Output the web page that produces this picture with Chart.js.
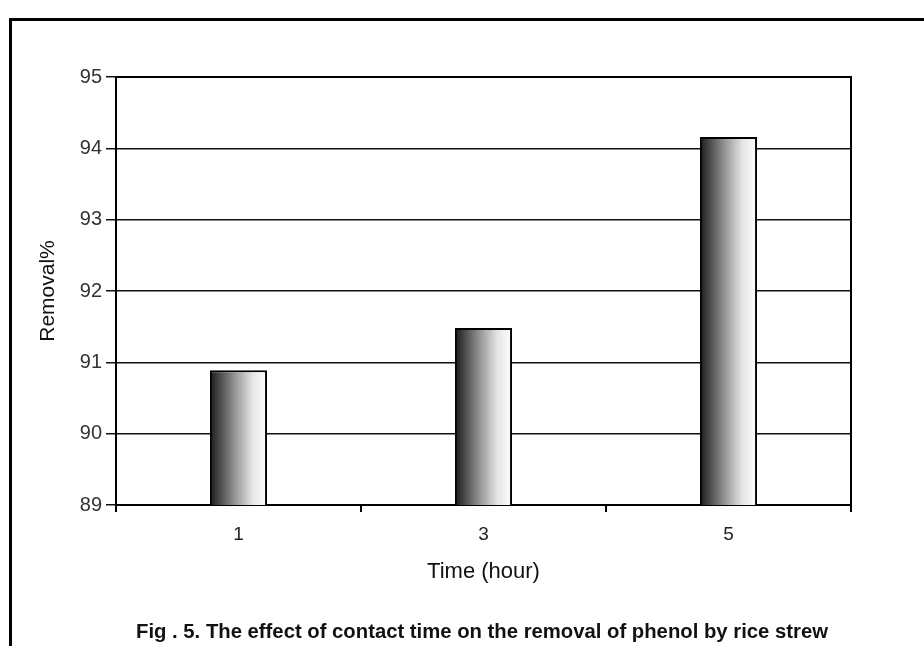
<!DOCTYPE html>
<html>
<head>
<meta charset="utf-8">
<script src="https://cdn.jsdelivr.net/npm/chart.js@4"></script>
<style>
    html, body { margin: 0; padding: 0; background: #fff; }
    #wrap { position: relative; width: 924px; height: 646px; overflow: hidden; }
    #frame {
        position: absolute; left: 9px; top: 18px; width: 940px; height: 660px;
        border-left: 3px solid #000; border-top: 3px solid #000;
    }
    #chart { position: absolute; left: 0; top: 0; }
    #caption {
        position: absolute; left: 40px; width: 884px; top: 619px;
        text-align: center; color: #111;
        font: bold 20.3px 'Liberation Sans', Arial, sans-serif; line-height: 24px;
        white-space: nowrap;
    }
</style>
</head>
<body>
<div id="wrap">
    <div id="frame"></div>
    <canvas id="chart" width="924" height="646"></canvas>
    <div id="caption">Fig . 5. The effect of contact time on the removal of phenol by rice strew</div>
</div>
<script>
const categories = ['1', '3', '5'];
const removal = [90.89, 91.48, 94.16];
const yTicks = [89, 90, 91, 92, 93, 94, 95];

const FONT = "'Liberation Sans', Arial, sans-serif";

// gradient from dark left edge to white right edge, one per bar
const barGradient = {
    id: 'barGradient',
    beforeDatasetsDraw(chart) {
        const ctx = chart.ctx;
        chart.getDatasetMeta(0).data.forEach(function (bar) {
            const x0 = bar.x - bar.width / 2;
            const g = ctx.createLinearGradient(x0, 0, x0 + bar.width, 0);
            g.addColorStop(0, '#1a1a1a');
            g.addColorStop(0.15, '#444444');
            g.addColorStop(0.45, '#999999');
            g.addColorStop(0.75, '#e6e6e6');
            g.addColorStop(1, '#ffffff');
            // options are shared between bars, so give each its own copy
            bar.options = Object.assign({}, bar.options, { backgroundColor: g });
        });
    }
};

// plot box outline (top and right sides)
const plotBox = {
    id: 'plotBox',
    afterDraw(chart) {
        const a = chart.chartArea;
        const ctx = chart.ctx;
        ctx.save();
        ctx.strokeStyle = '#000';
        ctx.lineWidth = 2;
        ctx.beginPath();
        ctx.moveTo(a.left, a.top);
        ctx.lineTo(a.right, a.top);
        ctx.lineTo(a.right, a.bottom);
        ctx.stroke();
        ctx.restore();
    }
};

new Chart(document.getElementById('chart').getContext('2d'), {
    type: 'bar',
    data: {
        labels: categories,
        datasets: [{
            data: removal,
            backgroundColor: '#888',
            borderColor: '#000',
            borderWidth: 2,
            categoryPercentage: 1,
            barPercentage: 0.233,
        }],
    },
    options: {
        responsive: false,
        animation: false,
        layout: { padding: { left: 20, top: 77, right: 73, bottom: 37.4 } },
        plugins: {
            legend: { display: false },
            tooltip: { enabled: false },
        },
        scales: {
            x: {
                offset: true,
                grid: { offset: true, drawOnChartArea: false, drawTicks: true, tickLength: 7, color: '#000', lineWidth: 2 },
                border: { color: '#000', width: 2 },
                ticks: { color: '#222', padding: 11, font: { family: FONT, size: 19 } },
                title: {
                    display: true,
                    text: 'Time (hour)',
                    color: '#111',
                    font: { family: FONT, size: 22 },
                    padding: { top: 0, bottom: 23 },
                },
                afterFit: function (scale) { scale.height = 103.6; },
            },
            y: {
                min: 89,
                max: 95,
                afterBuildTicks: function (scale) {
                    scale.ticks = yTicks.map(function (v) { return { value: v }; });
                },
                grid: { color: '#111', lineWidth: 1.5, tickLength: 10 },
                border: { color: '#000', width: 2 },
                ticks: { color: '#333', padding: 4, font: { family: FONT, size: 20 } },
                title: {
                    display: true,
                    text: 'Removal%',
                    color: '#111',
                    font: { family: FONT, size: 21 },
                    padding: { top: 16, bottom: 0 },
                },
                afterFit: function (scale) { scale.width = 96; },
            },
        },
    },
    plugins: [barGradient, plotBox],
});
</script>
</body>
</html>
